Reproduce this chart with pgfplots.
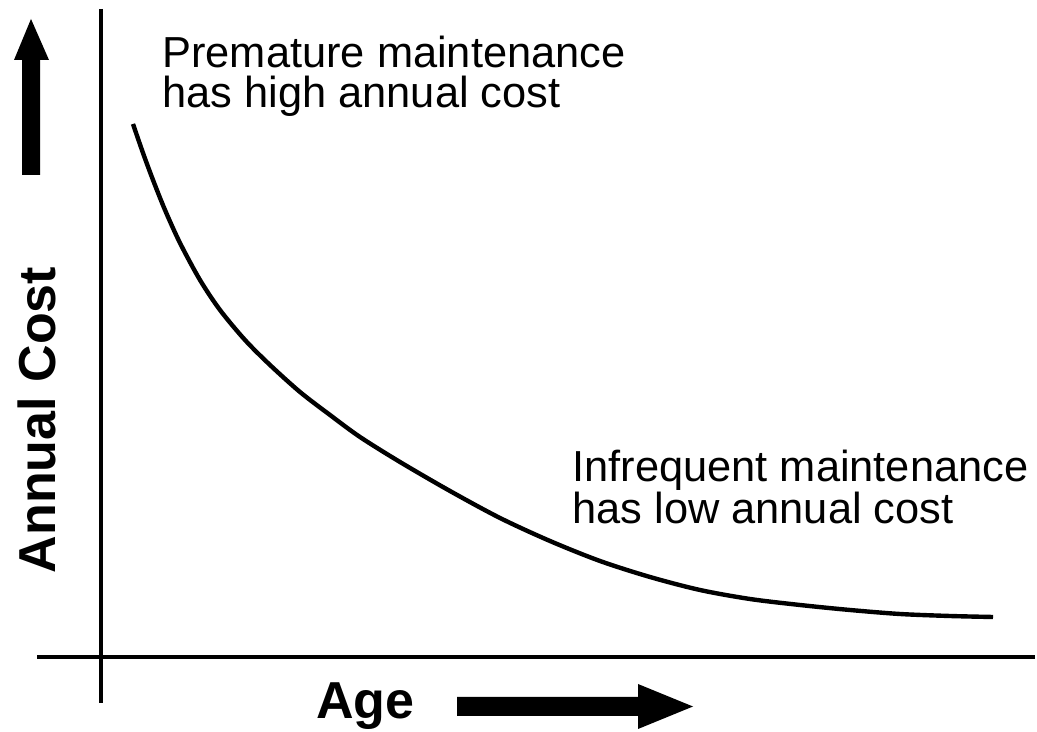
\documentclass[border=0pt]{standalone}
\usepackage{pgfplots}
\pgfplotsset{compat=1.18}
\usepackage{fontspec}
\setmainfont{Liberation Sans}
% data coordinates: x = Age, y = Annual cost (origin at the axes crossing)
\begin{document}
\begin{tikzpicture}
\begin{axis}[
  width=518.5pt, height=366pt, scale only axis,
  xmin=-101, xmax=936, ymin=-75, ymax=657,
  hide axis, clip=false,
]
\path (rel axis cs:0,0) rectangle (rel axis cs:1,1);
% axes lines
\addplot[black, line width=2pt] coordinates {(0,648) (0,-46)};
\addplot[black, line width=2pt] coordinates {(-64,0) (934,0)};
% cost curve
\addplot[black, line width=2.2pt, smooth] coordinates {
(32,533) (42,504) (52,477) (64,447) (79,414) (99,377) (119,347) (144,317)
(169,292) (199,265) (229,242) (259,220) (299,195) (349,166) (399,139)
(449,116) (499,96) (549,80) (599,67) (649,58) (699,52) (749,47) (799,43)
(849,41) (892,40)};
% arrows
\fill[black] (-79,482) -- (-61,482) -- (-61,597) -- (-52,597) -- (-70,638) -- (-87,597) -- (-79,597) -- cycle;
\fill[black] (356,-40) -- (537,-40) -- (537,-27) -- (592,-49.5) -- (537,-72) -- (537,-59) -- (356,-59) -- cycle;
% texts
\node[font=\fontsize{21.7}{20}\selectfont, anchor=base west, inner sep=0pt, align=left] at (61,549) {Premature maintenance\\has high annual cost};
\node[font=\fontsize{21.7}{20}\selectfont, anchor=base west, inner sep=0pt, align=left] at (471,133) {Infrequent maintenance\\has low annual cost};
\node[font=\fontsize{26}{30}\selectfont\bfseries, anchor=base west, inner sep=0pt] at (215,-62) {Age};
\node[font=\fontsize{26}{30}\selectfont\bfseries, anchor=base, rotate=90, inner sep=0pt] at (-46,237) {Annual Cost};
\end{axis}
\end{tikzpicture}
\end{document}
